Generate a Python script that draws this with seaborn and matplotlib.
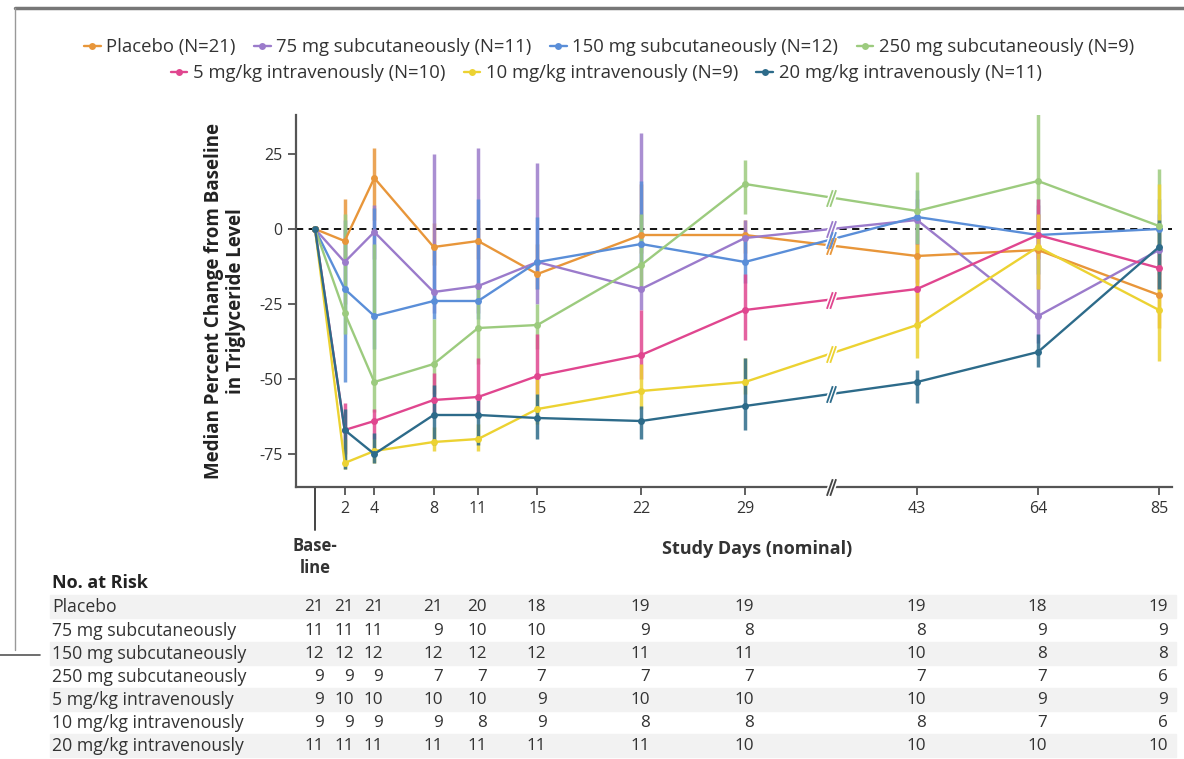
import numpy as np
import pandas as pd
import matplotlib
matplotlib.use("Agg")
import matplotlib.pyplot as plt
from matplotlib.lines import Line2D
from matplotlib.path import Path
from matplotlib.patches import Rectangle
import seaborn as sns

# ---------------------------------------------------------------- data
days = [0, 2, 4, 8, 11, 15, 22, 29, 43, 64, 85]
tick_days = [2, 4, 8, 11, 15, 22, 29, 43, 64, 85]

groups = ["Placebo", "75 mg subcutaneously", "150 mg subcutaneously",
          "250 mg subcutaneously", "5 mg/kg intravenously",
          "10 mg/kg intravenously", "20 mg/kg intravenously"]
group_n = [21, 11, 12, 9, 10, 9, 11]
colors = ["#E8963A", "#9B7BCB", "#5A8ED8", "#9CCB7E",
          "#E0468F", "#ECD232", "#2D6B8A"]

# median percent change from baseline
placebo_med = [0, -4, 17, -6, -4, -15, -2, -2, -9, -7, -22]
sc75_med = [0, -11, -1, -21, -19, -11, -20, -3, 3, -29, -7]
sc150_med = [0, -20, -29, -24, -24, -11, -5, -11, 4, -2, 0]
sc250_med = [0, -28, -51, -45, -33, -32, -12, 15, 6, 16, 1]
iv5_med = [0, -67, -64, -57, -56, -49, -42, -27, -20, -2, -13]
iv10_med = [0, -78, -74, -71, -70, -60, -54, -51, -32, -6, -27]
iv20_med = [0, -67, -75, -62, -62, -63, -64, -59, -51, -41, -6]

# lower / upper ends of the variability bars
placebo_lo = [0, -10, 3, -12, -10, -20, -8, -8, -18, -20, -33]
placebo_hi = [0, 10, 27, 2, 3, -5, 15, 3, 2, 5, -12]
sc75_lo = [0, -25, -10, -28, -28, -25, -27, -10, -5, -38, -15]
sc75_hi = [0, 0, 8, 25, 27, 22, 32, 3, 10, 8, 5]
sc150_lo = [0, -51, -40, -30, -30, -20, -12, -18, -5, -15, -20]
sc150_hi = [0, 3, 7, -5, 10, 4, 16, -2, 13, 10, 10]
sc250_lo = [0, -35, -61, -55, -45, -40, -20, 5, -5, 0, -5]
sc250_hi = [0, 5, -5, -30, -20, -25, 5, 23, 19, 39, 20]
iv5_lo = [0, -75, -70, -63, -63, -55, -50, -37, -32, -10, -20]
iv5_hi = [0, -58, -60, -48, -43, -35, -27, -15, -5, 10, -5]
iv10_lo = [0, -80, -78, -74, -74, -65, -60, -55, -43, -20, -44]
iv10_hi = [0, -70, -70, -66, -65, -50, -45, -43, -5, 5, 15]
iv20_lo = [0, -80, -78, -72, -72, -70, -70, -67, -58, -46, -20]
iv20_hi = [0, -60, -68, -52, -57, -55, -59, -43, -47, -35, 3]

# number at risk
risk_placebo = [21, 21, 21, 21, 20, 18, 19, 19, 19, 18, 19]
risk_sc75 = [11, 11, 11, 9, 10, 10, 9, 8, 8, 9, 9]
risk_sc150 = [12, 12, 12, 12, 12, 12, 11, 11, 10, 8, 8]
risk_sc250 = [9, 9, 9, 7, 7, 7, 7, 7, 7, 7, 6]
risk_iv5 = [9, 10, 10, 10, 10, 9, 10, 10, 10, 9, 9]
risk_iv10 = [9, 9, 9, 9, 8, 9, 8, 8, 8, 7, 6]
risk_iv20 = [11, 11, 11, 11, 11, 11, 11, 10, 10, 10, 10]

medians = [placebo_med, sc75_med, sc150_med, sc250_med, iv5_med, iv10_med, iv20_med]
lows = [placebo_lo, sc75_lo, sc150_lo, sc250_lo, iv5_lo, iv10_lo, iv20_lo]
highs = [placebo_hi, sc75_hi, sc150_hi, sc250_hi, iv5_hi, iv10_hi, iv20_hi]
risks = [risk_placebo, risk_sc75, risk_sc150, risk_sc250, risk_iv5, risk_iv10, risk_iv20]

rows = []
for g, m, lo, hi in zip(groups, medians, lows, highs):
    for d, mv, lv, hv in zip(days, m, lo, hi):
        rows.append({"group": g, "day": d, "median": mv, "lo": lv, "hi": hv})
df = pd.DataFrame(rows)

# ---------------------------------------------------------------- style
sns.set_style("ticks")
plt.rcParams["font.family"] = ["Open Sans", "DejaVu Sans"]
plt.rcParams["axes.unicode_minus"] = False

W, H = 1184, 759
fig = plt.figure(figsize=(W / 100, H / 100), dpi=100)


def fx(px):
    return px / W


def fy(py):
    return 1 - py / H


ax_l, ax_r, ax_t, ax_b = 296, 1172, 115, 487
ax = fig.add_axes([fx(ax_l), fy(ax_b), fx(ax_r) - fx(ax_l), fy(ax_t) - fy(ax_b)])

# piecewise-linear day axis with a compressed late segment
knot_days = np.array([-10.0, 0.0, 29.0, 43.0, 85.0, 100.0])
knot_pos = np.array([315 - 10 * 14.83, 315.0, 745.0, 917.0, 1159.0, 1159.0 + 15 * 5.76])


def fwd(x):
    return np.interp(x, knot_days, knot_pos)


def inv(p):
    return np.interp(p, knot_pos, knot_days)


ax.set_xscale("function", functions=(fwd, inv))
ax.set_xlim(inv(ax_l), inv(ax_r))
ax.set_ylim(-86, 38)

palette = dict(zip(groups, colors))

# variability bars
for g, c in zip(groups, colors):
    sub = df[(df.group == g) & (df.day > 0)]
    ax.vlines(sub["day"], sub["lo"], sub["hi"], colors=c, lw=2.5, alpha=0.85, zorder=2)

# zero reference
ax.axhline(0, color="black", lw=1.3, ls=(0, (4, 3)), zorder=1)

sns.lineplot(data=df, x="day", y="median", hue="group", hue_order=groups,
             palette=palette, marker="o", markersize=5, markeredgewidth=0,
             linewidth=1.7, estimator=None, legend=False, ax=ax, zorder=3)

# break marks between day 29 and day 43
break_day = 36.0
slash = Path([(-0.55, -1), (0.15, 1), (-0.15, -1), (0.55, 1)],
             [Path.MOVETO, Path.LINETO, Path.MOVETO, Path.LINETO])
for m, c in zip(medians, colors):
    yb = np.interp(break_day, days, m)
    ax.plot([break_day], [yb], marker=slash, ms=13, mec="white", mew=3.5, zorder=4)
    ax.plot([break_day], [yb], marker=slash, ms=12, mec=c, mew=1.3, zorder=5)
ax.plot([break_day], [0], marker=slash, ms=13, mec="white", mew=3.5,
        transform=ax.get_xaxis_transform(), clip_on=False, zorder=6)
ax.plot([break_day], [0], marker=slash, ms=12, mec="#444444", mew=1.3,
        transform=ax.get_xaxis_transform(), clip_on=False, zorder=7)

# axes cosmetics
sns.despine(ax=ax)
for s in ("left", "bottom"):
    ax.spines[s].set_color("#555555")
    ax.spines[s].set_linewidth(1.6)
ax.set_xticks(tick_days)
ax.set_xticklabels([str(d) for d in tick_days])
ax.set_yticks([-75, -50, -25, 0, 25])
ax.set_yticklabels(["-75", "-50", "-25", "0", "25"])
ax.tick_params(axis="both", colors="#444444", labelcolor="#333333",
               labelsize=11.5, length=6, width=1.2, direction="out")
ax.tick_params(axis="x", pad=4)
ax.xaxis.set_minor_locator(matplotlib.ticker.NullLocator())
ax.set_xlabel("")
ax.set_ylabel("Median Percent Change from Baseline\nin Triglyceride Level",
              fontsize=13.5, fontweight="bold", color="#222222", labelpad=10,
              linespacing=1.1)

# baseline tick, longer than the others
ax.plot([0, 0], [0, -(530 - ax_b) / (ax_b - ax_t)], color="#444444", lw=1.4,
        transform=ax.get_xaxis_transform(), clip_on=False)
ax.text(0, -(557 - ax_b) / (ax_b - ax_t), "Base-\nline", transform=ax.get_xaxis_transform(),
        ha="center", va="center", fontsize=12, fontweight="bold", color="#333333",
        linespacing=1.25)
fig.text(fx(757), fy(549), "Study Days (nominal)", ha="center", va="center",
         fontsize=13, fontweight="bold", color="#333333")

# legend, two centred rows
handles = [Line2D([0], [0], color=c, lw=1.7, marker="o", ms=5, mew=0) for c in colors]
labels = [f"{g} (N={n})" for g, n in zip(groups, group_n)]
leg_kw = dict(frameon=False, fontsize=13.3, handlelength=0.9, handletextpad=0.3,
              columnspacing=1.0, borderaxespad=0, labelcolor="#333333")
fig.legend(handles[:4], labels[:4], loc="center", ncol=4,
           bbox_to_anchor=(fx(609), fy(47)), **leg_kw)
fig.legend(handles[4:], labels[4:], loc="center", ncol=3,
           bbox_to_anchor=(fx(606), fy(73)), **leg_kw)

# number-at-risk table
fig.text(fx(52), fy(583), "No. at Risk", ha="left", va="center", fontsize=13,
         fontweight="bold", color="#222222")
row_y = [607, 631, 654, 677, 700, 723, 746]
for i, (g, r, yy) in enumerate(zip(groups, risks, row_y)):
    if i % 2 == 0:
        fig.patches.append(Rectangle((fx(50), fy(yy + 11)), fx(1176) - fx(50),
                                     23 / H, transform=fig.transFigure,
                                     color="#f2f2f2", zorder=0))
    fig.text(fx(52), fy(yy), g, ha="left", va="center", fontsize=12.7, color="#333333")
    for d, v in zip(days, r):
        xp = fwd(d) + 9
        fig.text(fx(xp), fy(yy), str(v), ha="right", va="center", fontsize=12.3,
                 color="#333333")

# page frame
fig.add_artist(Line2D([fx(15), 1], [fy(8), fy(8)], color="#777777", lw=2.5))
fig.add_artist(Line2D([fx(15), fx(15)], [fy(8), fy(650)], color="#999999", lw=1))
fig.add_artist(Line2D([0, fx(40)], [fy(655), fy(655)], color="#555555", lw=1.2))

fig.savefig("out.png", dpi=100)
